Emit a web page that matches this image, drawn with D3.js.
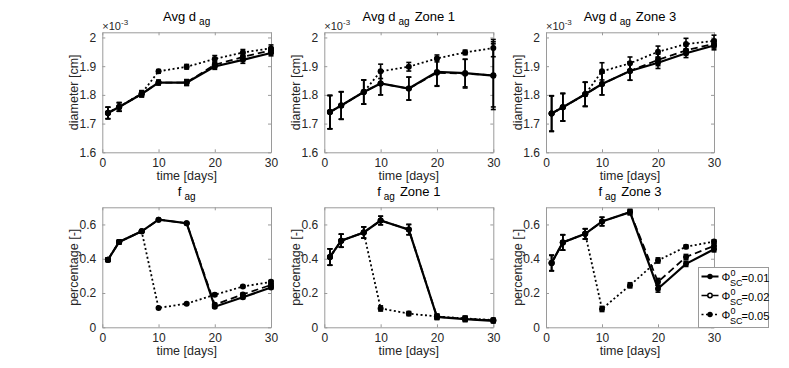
<!DOCTYPE html>
<html>
<head>
<meta charset="utf-8">
<script src="https://cdn.jsdelivr.net/npm/d3@7"></script>
<style>
  body { margin: 0; background: #fff; }
  svg { font-family: "Liberation Sans", Arial, sans-serif; }
</style>
</head>
<body>
<div id="chart"></div>
<script>
// sampling days and legend labels
var days = [1, 3, 7, 10, 15, 20, 25, 30];
var phiLabels = ["0.01", "0.02", "0.05"];
var xTicks = [0, 10, 20, 30];
var dTicks = [1.6, 1.7, 1.8, 1.9, 2.0];
var fTicks = [0, 0.2, 0.4, 0.6];

// avg diameter (x1e-3 cm), one row per phi
var dAvg = [
  [1.737, 1.758, 1.803, 1.843, 1.843, 1.899, 1.922, 1.946],
  [1.737, 1.758, 1.803, 1.843, 1.843, 1.905, 1.932, 1.955],
  [1.737, 1.758, 1.805, 1.882, 1.898, 1.925, 1.948, 1.962]];
var dAvgErr = [
  [0.02, 0.015, 0.01, 0.008, 0.01, 0.01, 0.012, 0.01],
  [0.02, 0.015, 0.01, 0.008, 0.01, 0.01, 0.012, 0.01],
  [0.02, 0.015, 0.01, 0.006, 0.008, 0.012, 0.01, 0.012]];
var dZone1 = [
  [1.740, 1.763, 1.810, 1.840, 1.822, 1.880, 1.876, 1.867],
  [1.740, 1.763, 1.810, 1.840, 1.822, 1.877, 1.874, 1.868],
  [1.740, 1.763, 1.810, 1.882, 1.898, 1.927, 1.948, 1.963]];
var dZone1Err = [
  [0.058, 0.048, 0.042, 0.04, 0.04, 0.05, 0.048, 0.118],
  [0.058, 0.048, 0.042, 0.04, 0.04, 0.045, 0.05, 0.11],
  [0.058, 0.048, 0.042, 0.025, 0.015, 0.012, 0.008, 0.03]];
var dZone3 = [
  [1.735, 1.757, 1.802, 1.838, 1.883, 1.912, 1.945, 1.972],
  [1.735, 1.757, 1.802, 1.838, 1.883, 1.922, 1.955, 1.978],
  [1.735, 1.757, 1.802, 1.882, 1.910, 1.950, 1.977, 1.988]];
var dZone3Err = [
  [0.062, 0.048, 0.042, 0.038, 0.032, 0.02, 0.015, 0.015],
  [0.062, 0.048, 0.042, 0.038, 0.032, 0.02, 0.015, 0.015],
  [0.062, 0.048, 0.042, 0.03, 0.022, 0.02, 0.02, 0.02]];

// aggregate fraction [-]
var fAvg = [
  [0.394, 0.498, 0.560, 0.628, 0.607, 0.120, 0.175, 0.232],
  [0.394, 0.498, 0.560, 0.628, 0.607, 0.132, 0.192, 0.247],
  [0.394, 0.498, 0.560, 0.113, 0.138, 0.190, 0.238, 0.265]];
var fAvgErr = [
  [0.01, 0.01, 0.008, 0.005, 0.005, 0.008, 0.008, 0.008],
  [0.01, 0.01, 0.008, 0.005, 0.005, 0.008, 0.008, 0.008],
  [0.01, 0.01, 0.008, 0.005, 0.005, 0.008, 0.006, 0.008]];
var fZone1 = [
  [0.410, 0.505, 0.553, 0.623, 0.570, 0.060, 0.048, 0.038],
  [0.410, 0.505, 0.553, 0.623, 0.570, 0.062, 0.050, 0.040],
  [0.410, 0.505, 0.553, 0.110, 0.080, 0.063, 0.052, 0.042]];
var fZone1Err = [
  [0.048, 0.038, 0.033, 0.025, 0.03, 0.015, 0.015, 0.012],
  [0.048, 0.038, 0.033, 0.025, 0.03, 0.015, 0.015, 0.012],
  [0.048, 0.038, 0.033, 0.015, 0.012, 0.012, 0.012, 0.01]];
var fZone3 = [
  [0.375, 0.495, 0.545, 0.617, 0.672, 0.225, 0.370, 0.455],
  [0.375, 0.495, 0.545, 0.617, 0.672, 0.265, 0.410, 0.475],
  [0.375, 0.495, 0.545, 0.107, 0.245, 0.390, 0.470, 0.500]];
var fZone3Err = [
  [0.045, 0.045, 0.03, 0.025, 0.015, 0.02, 0.015, 0.015],
  [0.045, 0.045, 0.03, 0.025, 0.015, 0.02, 0.015, 0.015],
  [0.045, 0.045, 0.03, 0.015, 0.015, 0.015, 0.01, 0.01]];

var W = 789, H = 368;
var svg = d3.select("#chart").append("svg")
    .attr("width", W).attr("height", H);

var txt = "#262626";
var dashes = [null, "7,4", "2,2.5"];

// panel boxes (left, right) and rows (top, bottom)
var cols = [[102.3, 271], [324.3, 493.3], [546, 714]];
var rows = [[32.3, 152.3], [207.3, 327.3]];

var panels = [
  {c: 0, r: 0, mean: dAvg, err: dAvgErr, zone: "", kind: "d"},
  {c: 1, r: 0, mean: dZone1, err: dZone1Err, zone: "Zone 1", kind: "d"},
  {c: 2, r: 0, mean: dZone3, err: dZone3Err, zone: "Zone 3", kind: "d"},
  {c: 0, r: 1, mean: fAvg, err: fAvgErr, zone: "", kind: "f"},
  {c: 1, r: 1, mean: fZone1, err: fZone1Err, zone: "Zone 1", kind: "f"},
  {c: 2, r: 1, mean: fZone3, err: fZone3Err, zone: "Zone 3", kind: "f"}
];

panels.forEach(function (p) {
    var x0 = cols[p.c][0], x1 = cols[p.c][1];
    var y0 = rows[p.r][0], y1 = rows[p.r][1];
    var isD = p.kind === "d";

    var x = d3.scaleLinear().domain([0, 30]).range([x0, x1]);
    var y = d3.scaleLinear()
        .domain(isD ? [1.6, 2.018] : [0, 0.7])
        .range([y1, y0]);
    var yTicks = isD ? dTicks : fTicks;

    var g = svg.append("g");

    // axes with inward ticks on all sides (matlab box style)
    var fmt = function (v) { return d3.format("~g")(+v.toFixed(2)); };
    var ax = [
      [d3.axisBottom(x).tickValues(xTicks).tickSizeInner(-3).tickSizeOuter(0).tickPadding(6).tickFormat(fmt), "translate(0," + y1 + ")"],
      [d3.axisTop(x).tickValues(xTicks).tickSizeInner(-3).tickSizeOuter(0).tickFormat(""), "translate(0," + y0 + ")"],
      [d3.axisLeft(y).tickValues(yTicks).tickSizeInner(-3).tickSizeOuter(0).tickPadding(6).tickFormat(fmt), "translate(" + x0 + ",0)"],
      [d3.axisRight(y).tickValues(yTicks).tickSizeInner(-3).tickSizeOuter(0).tickFormat(""), "translate(" + x1 + ",0)"]
    ];
    ax.forEach(function (a) {
        var s = g.append("g").attr("transform", a[1]).call(a[0]);
        s.select(".domain").attr("stroke", "#9a9a9a");
        s.selectAll(".tick line").attr("stroke", "#9a9a9a");
        s.selectAll(".tick text").attr("fill", txt).style("font-size", "12px");
    });

    // data: lines, error bars, markers
    p.mean.forEach(function (vals, si) {
        var pts = days.map(function (d, i) { return {x: d, y: vals[i], e: p.err[si][i]}; });
        var line = d3.line().x(function (d) { return x(d.x); }).y(function (d) { return y(d.y); });
        g.append("path").datum(pts)
            .attr("d", line)
            .attr("fill", "none")
            .attr("stroke", "#000")
            .attr("stroke-width", si === 0 ? 2.2 : 1.8)
            .attr("stroke-dasharray", dashes[si]);

        var eb = g.append("g").attr("stroke", "#000").attr("stroke-width", 1.6);
        pts.forEach(function (d) {
            var cx = x(d.x), ya = y(d.y - d.e), yb = y(d.y + d.e);
            eb.append("line").attr("x1", cx).attr("x2", cx).attr("y1", ya).attr("y2", yb);
            eb.append("line").attr("x1", cx - 2.5).attr("x2", cx + 2.5).attr("y1", ya).attr("y2", ya);
            eb.append("line").attr("x1", cx - 2.5).attr("x2", cx + 2.5).attr("y1", yb).attr("y2", yb);
        });

        g.selectAll(null).data(pts).enter().append("circle")
            .attr("cx", function (d) { return x(d.x); })
            .attr("cy", function (d) { return y(d.y); })
            .attr("r", 3)
            .attr("fill", "#000");
    });

    var cx = (x0 + x1) / 2;

    // title with subscript
    var title = g.append("text")
        .attr("x", cx).attr("y", y0 - 11)
        .attr("text-anchor", "middle")
        .attr("fill", "#000")
        .style("font-size", "13px");
    title.append("tspan").text(isD ? "Avg d" : "f");
    title.append("tspan").attr("dx", 3).attr("dy", 4).style("font-size", "10px").text("ag");
    if (p.zone) {
        title.append("tspan").attr("dx", 5).attr("dy", -4).text(p.zone);
    }

    // x label
    g.append("text")
        .attr("x", cx).attr("y", y1 + 28)
        .attr("text-anchor", "middle")
        .attr("fill", txt)
        .style("font-size", "12.5px")
        .text("time [days]");

    // y label
    g.append("text")
        .attr("transform", "translate(" + (x0 - 24) + "," + ((y0 + y1) / 2) + ")rotate(-90)")
        .attr("text-anchor", "middle")
        .attr("fill", txt)
        .style("font-size", "12.5px")
        .text(isD ? "diameter [cm]" : "percentage [-]");

    // exponent note
    if (isD) {
        var ex = g.append("text")
            .attr("x", x0).attr("y", y0 - 2)
            .attr("fill", txt)
            .style("font-size", "11px");
        ex.append("tspan").text("\u00d710");
        ex.append("tspan").attr("dy", -5).style("font-size", "8px").text("-3");
    }
});

// legend in the bottom-right panel
var lg = svg.append("g").attr("transform", "translate(698.5,267.5)");
lg.append("rect")
    .attr("width", 70).attr("height", 60)
    .attr("fill", "#fff")
    .attr("stroke", "#9a9a9a");

phiLabels.forEach(function (lab, i) {
    var yy = 9 + i * 19;
    lg.append("line")
        .attr("x1", 3).attr("x2", 20).attr("y1", yy).attr("y2", yy)
        .attr("stroke", "#000")
        .attr("stroke-width", i === 0 ? 2 : 1.6)
        .attr("stroke-dasharray", dashes[i]);
    lg.append("circle")
        .attr("cx", 11.5).attr("cy", yy).attr("r", i === 1 ? 2.2 : 2.7)
        .attr("fill", i === 1 ? "#fff" : "#000")
        .attr("stroke", "#000").attr("stroke-width", i === 1 ? 1.5 : 0);
    lg.append("text").attr("x", 23).attr("y", yy + 4)
        .attr("fill", "#000").style("font-size", "11px").text("\u03a6");
    lg.append("text").attr("x", 32).attr("y", yy - 1)
        .attr("fill", "#000").style("font-size", "9px").text("0");
    lg.append("text").attr("x", 31.5).attr("y", yy + 9)
        .attr("fill", "#000").style("font-size", "9px").text("SC");
    lg.append("text").attr("x", 43).attr("y", yy + 5)
        .attr("fill", "#000").style("font-size", "11px").text("=" + lab);
});
</script>
</body>
</html>
